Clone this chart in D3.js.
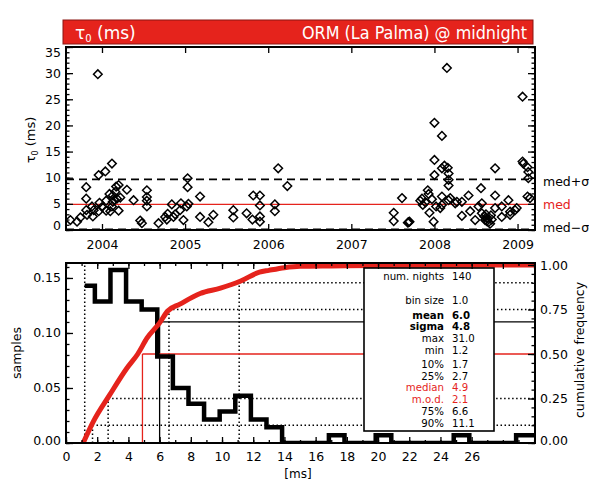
<!DOCTYPE html>
<html>
<head>
<meta charset="utf-8">
<script src="https://cdn.jsdelivr.net/npm/d3@7"></script>
<style>
  body { margin: 0; background: #fff; }
  svg { display: block; }
  text { font-family: "DejaVu Sans", "Liberation Sans", sans-serif; }
</style>
</head>
<body>
<svg id="chart" width="589" height="481"></svg>
<script>
// ---- nightly tau0 at midnight, ORM (La Palma) ----
const nightDate = [
  2003.62, 2003.70, 2003.74, 2003.81, 2003.81, 2003.81, 2003.82, 2003.88, 2003.89, 2003.90,
  2003.95, 2003.96, 2003.96, 2003.97, 2004.00, 2004.04, 2004.05, 2004.05, 2004.09, 2004.10,
  2004.12, 2004.12, 2004.13, 2004.13, 2004.15, 2004.16, 2004.17, 2004.18, 2004.20, 2004.20,
  2004.22, 2004.30, 2004.38, 2004.46, 2004.48, 2004.54, 2004.54, 2004.54, 2004.54, 2004.68,
  2004.76, 2004.78, 2004.79, 2004.84, 2004.86, 2004.88, 2004.94, 2004.95, 2004.98, 2005.02,
  2005.03, 2005.03, 2005.04, 2005.18, 2005.18, 2005.28, 2005.34, 2005.58, 2005.58, 2005.74,
  2005.81, 2005.82, 2005.90, 2005.90, 2005.90, 2005.90, 2006.08, 2006.08, 2006.12, 2006.23,
  2007.51, 2007.51, 2007.61, 2007.68, 2007.69, 2007.70, 2007.83, 2007.85, 2007.86, 2007.89,
  2007.92, 2007.93, 2007.94, 2007.97, 2007.99, 2008.00, 2008.00, 2008.00, 2008.02, 2008.07,
  2008.09, 2008.09, 2008.09, 2008.09, 2008.12, 2008.15, 2008.16, 2008.17, 2008.17, 2008.17,
  2008.17, 2008.19, 2008.25, 2008.27, 2008.33, 2008.33, 2008.41, 2008.43, 2008.49, 2008.53,
  2008.56, 2008.57, 2008.57, 2008.60, 2008.61, 2008.62, 2008.63, 2008.64, 2008.65, 2008.67,
  2008.68, 2008.69, 2008.73, 2008.73, 2008.73, 2008.81, 2008.81, 2008.89, 2008.91, 2008.91,
  2008.97, 2008.99, 2009.06, 2009.06, 2009.07, 2009.12, 2009.12, 2009.13, 2009.13, 2009.15
];
const nightTau = [
  1.9, 1.6, 2.4, 8.2, 6.0, 3.8, 2.9, 4.5, 2.6, 3.8,
  29.8, 10.5, 3.6, 5.2, 4.4, 11.2, 5.6, 3.7, 6.9, 3.6,
  12.7, 4.5, 6.6, 5.4, 5.8, 7.3, 8.3, 6.0, 8.6, 3.7,
  6.2, 7.7, 5.7, 1.8, 1.3, 7.6, 6.3, 5.6, 4.5, 1.3,
  2.5, 2.0, 3.1, 4.9, 2.5, 3.0, 3.8, 5.1, 1.9, 4.5,
  9.9, 8.2, 5.0, 6.4, 2.5, 1.5, 2.9, 3.8, 2.4, 3.2,
  2.0, 6.6, 6.6, 4.7, 2.6, 1.6, 4.9, 3.6, 11.8, 8.4,
  3.3, 1.7, 6.1, 1.4, 1.5, 1.6, 5.6, 6.0, 4.8, 5.3,
  7.6, 6.9, 3.3, 5.9, 1.6, 20.5, 13.4, 10.5, 4.5, 4.2,
  18.0, 11.8, 6.4, 4.8, 12.3, 31.0, 11.9, 10.8, 9.6, 8.5,
  5.7, 6.1, 5.1, 5.4, 5.4, 2.7, 6.6, 3.6, 1.9, 4.5,
  8.0, 5.1, 3.2, 2.6, 1.9, 3.0, 1.7, 2.2, 1.5, 1.2,
  2.8, 2.0, 11.8, 6.6, 4.2, 4.5, 2.5, 5.7, 3.5, 2.9,
  3.8, 4.2, 25.5, 13.1, 12.7, 12.0, 6.4, 11.1, 9.9, 6.1
];
const yearTicks = [2004, 2005, 2006, 2007, 2008, 2009];
const tauTicks = [0, 5, 10, 15, 20, 25, 30, 35];
const bandLabels = ["med+σ", "med", "med−σ"];

// ---- summary statistics ----
const numNights = 140;
const binSize = 1.0;
const meanTau = 6.0;
const sigmaTau = 4.8;
const maxTau = 31.0;
const minTau = 1.2;
const medianTau = 4.9;
const modTau = 2.1;
const meanCumulative = 0.68;
const quantiles = [
  { p: 0.10, v: 1.7 },
  { p: 0.25, v: 2.7 },
  { p: 0.75, v: 6.6 },
  { p: 0.90, v: 11.1 }
];

// ---- histogram of tau0 (nights per 1 ms bin) ----
const binFirstEdge = 0.85;
const binCounts = [20, 18, 22, 18, 17, 11, 7, 5, 3, 4, 6, 3, 2, 0, 0, 0, 1, 0, 0, 1, 0, 0, 0, 0, 1, 0, 0, 0, 1];

// ---- cumulative frequency ----
const cumX = [1.1, 1.75, 2.8, 3.9, 4.6, 5.2, 6.0, 6.5, 7.3, 8.6, 9.9, 11.2, 12.4, 13.0, 14.0, 15.0, 17.0, 20.0, 25.0, 30.06];
const cumY = [0, 0.12, 0.27, 0.42, 0.50, 0.59, 0.675, 0.74, 0.78, 0.84, 0.87, 0.91, 0.96, 0.97, 0.985, 0.993, 0.995, 0.997, 0.999, 1.0];

const msTicks = [0, 2, 4, 6, 8, 10, 12, 14, 16, 18, 20, 22, 24, 26];
const sampleTicks = [0, 0.05, 0.10, 0.15];
const cumTicks = [0, 0.25, 0.50, 0.75, 1.00];

const statRows = [
  { label: "num. nights", value: String(numNights) },
  { label: "bin size", value: binSize.toFixed(1) },
  { label: "mean", value: meanTau.toFixed(1), bold: true },
  { label: "sigma", value: sigmaTau.toFixed(1), bold: true },
  { label: "max", value: maxTau.toFixed(1) },
  { label: "min", value: minTau.toFixed(1) },
  { label: "10%", value: "1.7" },
  { label: "25%", value: "2.7" },
  { label: "median", value: medianTau.toFixed(1), red: true },
  { label: "m.o.d.", value: modTau.toFixed(1), red: true },
  { label: "75%", value: "6.6" },
  { label: "90%", value: "11.1" }
];

// ================= drawing =================
const RED = "#e5231c";
const svg = d3.select("#chart");
const FS = 12.5;

// ---------- title bar ----------
const titleBar = svg.append("g");
titleBar.append("rect").attr("x", 63).attr("y", 20).attr("width", 470).attr("height", 24)
  .attr("fill", RED).attr("stroke", "#8a1712").attr("stroke-width", 1);
const tt = titleBar.append("text").attr("x", 75).attr("y", 38.5).attr("fill", "#fff")
  .attr("font-size", 17);
tt.append("tspan").text("τ");
tt.append("tspan").attr("font-size", 10).attr("dy", 3).text("0");
tt.append("tspan").attr("dy", -3).text(" (ms)");
titleBar.append("text").attr("x", 527).attr("y", 38.5).attr("fill", "#fff")
  .attr("font-size", 17).attr("text-anchor", "end")
  .attr("textLength", 225).attr("lengthAdjust", "spacingAndGlyphs")
  .text("ORM (La Palma) @ midnight");

// ---------- top panel: tau0 time series ----------
const T = { left: 66, right: 535, top: 47, bottom: 230 };
const xYear = d3.scaleLinear().domain([2003.567, 2009.21]).range([T.left, T.right]);
const yTau = d3.scaleLinear().domain([0, 35]).range([T.bottom, T.top]);

svg.append("clipPath").attr("id", "clipTop").append("rect")
  .attr("x", T.left).attr("y", T.top).attr("width", T.right - T.left).attr("height", T.bottom - T.top);

const topPanel = svg.append("g");
const bands = [medianTau + sigmaTau, medianTau, medianTau - sigmaTau];
const topLines = topPanel.append("g").attr("clip-path", "url(#clipTop)");
topLines.selectAll("line").data(bands).join("line")
  .attr("x1", T.left).attr("x2", T.right)
  .attr("y1", d => yTau(d)).attr("y2", d => yTau(d))
  .attr("stroke", (d, i) => i === 1 ? RED : "#000")
  .attr("stroke-width", (d, i) => i === 1 ? 1.3 : 1.8)
  .attr("stroke-dasharray", (d, i) => i === 1 ? null : "8,5");

// open diamonds
const r = 4.3;
const diamond = `M0,${-r}L${r},0L0,${r}L${-r},0Z`;
topLines.selectAll("path.pt").data(d3.range(nightDate.length)).join("path")
  .attr("class", "pt")
  .attr("d", diamond)
  .attr("transform", i => `translate(${xYear(nightDate[i])},${yTau(nightTau[i])})`)
  .attr("fill", "none").attr("stroke", "#000").attr("stroke-width", 1.5);

// band labels on the right
topPanel.selectAll("text.band").data(bandLabels).join("text")
  .attr("class", "band")
  .attr("x", 543).attr("y", (d, i) => yTau(bands[i]) + 4.5 + (i === 2 ? -2 : (i === 0 ? 2 : 0)))
  .attr("font-size", 12.5)
  .attr("fill", (d, i) => i === 1 ? RED : "#000")
  .text(d => d);

// axes
function styleAxis(g, fs) {
  g.select(".domain").remove();
  g.selectAll("line").attr("stroke", "#000").attr("stroke-width", 1.3);
  g.selectAll("text").filter(function () { return this.textContent === ""; }).remove();
  g.selectAll("text").attr("font-size", fs).attr("fill", "#000").attr("font-family", null);
}
const yLeft = topPanel.append("g").attr("transform", `translate(${T.left},0)`)
  .call(d3.axisLeft(yTau).tickValues(tauTicks).tickSize(-7).tickPadding(5));
styleAxis(yLeft, FS);
yLeft.selectAll("text").attr("dy", d => d === 0 ? "-0.05em" : d === 35 ? "0.75em" : "0.32em");
topPanel.append("g").attr("transform", `translate(${T.left},0)`)
  .call(d3.axisLeft(yTau).tickValues(d3.range(0, 36, 1)).tickFormat("").tickSize(-3.5)).call(styleAxis, FS);
topPanel.append("g").attr("transform", `translate(${T.right},0)`)
  .call(d3.axisRight(yTau).tickValues(tauTicks).tickFormat("").tickSize(-7)).call(styleAxis, FS);
topPanel.append("g").attr("transform", `translate(${T.right},0)`)
  .call(d3.axisRight(yTau).tickValues(d3.range(0, 36, 1)).tickFormat("").tickSize(-3.5)).call(styleAxis, FS);
topPanel.append("g").attr("transform", `translate(0,${T.bottom})`)
  .call(d3.axisBottom(xYear).tickValues(yearTicks).tickFormat(d3.format("d")).tickSize(-6).tickPadding(10))
  .call(styleAxis, FS);
topPanel.append("g").attr("transform", `translate(0,${T.top})`)
  .call(d3.axisTop(xYear).tickValues(yearTicks).tickFormat("").tickSize(-6)).call(styleAxis, FS);

topPanel.append("rect").attr("x", T.left).attr("y", T.top).attr("width", T.right - T.left)
  .attr("height", T.bottom - T.top).attr("fill", "none").attr("stroke", "#000").attr("stroke-width", 2);

const yl = topPanel.append("text").attr("transform", "translate(35,140) rotate(-90)")
  .attr("text-anchor", "middle").attr("font-size", 13);
yl.append("tspan").text("τ");
yl.append("tspan").attr("font-size", 8).attr("dy", 3).text("0");
yl.append("tspan").attr("dy", -3).text(" (ms)");

// ---------- bottom panel: histogram + cumulative frequency ----------
const B = { left: 66, right: 535, top: 263, bottom: 443 };
const xMs = d3.scaleLinear().domain([0, 30.06]).range([B.left, B.right]);
const ySamp = d3.scaleLinear().domain([0, 0.1636]).range([B.bottom, B.top]);
const yCum = d3.scaleLinear().domain([0, 1]).range([B.bottom, 265]);

svg.append("clipPath").attr("id", "clipBot").append("rect")
  .attr("x", B.left).attr("y", B.top).attr("width", B.right - B.left).attr("height", B.bottom - B.top);

const bot = svg.append("g");
const guides = bot.append("g").attr("clip-path", "url(#clipBot)");
const dotted = { stroke: "#000", "stroke-width": 1.5, "stroke-dasharray": "1.5,2.5" };
function applyAttrs(sel, attrs) { for (const k in attrs) sel.attr(k, attrs[k]); return sel; }

// minimum value, full height
applyAttrs(guides.append("line")
  .attr("x1", xMs(minTau)).attr("x2", xMs(minTau)).attr("y1", B.bottom).attr("y2", B.top), dotted);

// quantile guides
quantiles.forEach(q => {
  applyAttrs(guides.append("line").attr("x1", xMs(q.v)).attr("x2", xMs(q.v))
    .attr("y1", B.bottom).attr("y2", yCum(q.p)), dotted);
  applyAttrs(guides.append("line").attr("x1", xMs(q.v)).attr("x2", B.right)
    .attr("y1", yCum(q.p)).attr("y2", yCum(q.p)), dotted);
});

// mean (black) and median (red) guides
[{ v: meanTau, p: meanCumulative, c: "#000" }, { v: medianTau, p: 0.5, c: RED }].forEach(g => {
  guides.append("line").attr("x1", xMs(g.v)).attr("x2", xMs(g.v))
    .attr("y1", B.bottom).attr("y2", yCum(g.p)).attr("stroke", g.c).attr("stroke-width", 1.3);
  guides.append("line").attr("x1", xMs(g.v)).attr("x2", B.right)
    .attr("y1", yCum(g.p)).attr("y2", yCum(g.p)).attr("stroke", g.c).attr("stroke-width", 1.3);
});

// histogram as a step line
const steps = [];
binCounts.forEach((c, k) => {
  const lo = Math.max(binFirstEdge + k * binSize, minTau);
  const hi = k === binCounts.length - 1 ? xMs.domain()[1] : binFirstEdge + (k + 1) * binSize;
  steps.push([lo, c / numNights], [hi, c / numNights]);
});
guides.append("path")
  .attr("d", d3.line().x(d => xMs(d[0])).y(d => ySamp(d[1]))(steps))
  .attr("fill", "none").attr("stroke", "#000").attr("stroke-width", 4.5)
  .attr("stroke-linejoin", "miter");

// cumulative frequency curve
guides.append("path")
  .attr("d", d3.line().x((d, i) => xMs(cumX[i])).y((d, i) => yCum(cumY[i])).curve(d3.curveMonotoneX)(cumX))
  .attr("fill", "none").attr("stroke", RED).attr("stroke-width", 5).attr("stroke-linecap", "round");

// statistics box
const box = bot.append("g");
box.append("rect").attr("x", 364).attr("y", 268).attr("width", 130).attr("height", 163)
  .attr("fill", "#fff").attr("stroke", "#000").attr("stroke-width", 1.6);
const rowY = [280, 304, 318.5, 330.2, 341.9, 353.6, 368, 379.7, 391.4, 403.1, 414.8, 426.5];
const rows = box.selectAll("g.row").data(statRows).join("g").attr("class", "row");
rows.append("text").attr("x", 444).attr("y", (d, i) => rowY[i]).attr("text-anchor", "end")
  .attr("font-size", 10.2).attr("font-weight", d => d.bold ? "bold" : null)
  .attr("fill", d => d.red ? RED : "#000").text(d => d.label);
rows.append("text").attr("x", 452).attr("y", (d, i) => rowY[i])
  .attr("font-size", 10.2).attr("font-weight", d => d.bold ? "bold" : null)
  .attr("fill", d => d.red ? RED : "#000").text(d => d.value);

// axes
const sl = bot.append("g").attr("transform", `translate(${B.left},0)`)
  .call(d3.axisLeft(ySamp).tickValues(sampleTicks).tickFormat(d3.format(".2f")).tickSize(-7).tickPadding(5));
styleAxis(sl, FS);
sl.selectAll("text").attr("dy", d => d === 0 ? "0.1em" : "0.32em");
bot.append("g").attr("transform", `translate(${B.left},0)`)
  .call(d3.axisLeft(ySamp).tickValues(d3.range(0, 0.161, 0.01)).tickFormat("").tickSize(-3.5)).call(styleAxis, FS);
const cr = bot.append("g").attr("transform", `translate(${B.right},0)`)
  .call(d3.axisRight(yCum).tickValues(cumTicks).tickFormat(d3.format(".2f")).tickSize(-7).tickPadding(5));
styleAxis(cr, FS);
cr.selectAll("text").attr("dy", d => d === 0 ? "0.1em" : "0.32em");
bot.append("g").attr("transform", `translate(${B.right},0)`)
  .call(d3.axisRight(yCum).tickValues(d3.range(0, 1.001, 0.05)).tickFormat("").tickSize(-3.5)).call(styleAxis, FS);
bot.append("g").attr("transform", `translate(0,${B.bottom})`)
  .call(d3.axisBottom(xMs).tickValues(msTicks).tickFormat(d3.format("d")).tickSize(-6).tickPadding(9))
  .call(styleAxis, FS);
bot.append("g").attr("transform", `translate(0,${B.bottom})`)
  .call(d3.axisBottom(xMs).tickValues(d3.range(0, 31, 1)).tickFormat("").tickSize(-3)).call(styleAxis, FS);
bot.append("g").attr("transform", `translate(0,${B.top})`)
  .call(d3.axisTop(xMs).tickValues(d3.range(0, 31, 2)).tickFormat("").tickSize(-6)).call(styleAxis, FS);
bot.append("g").attr("transform", `translate(0,${B.top})`)
  .call(d3.axisTop(xMs).tickValues(d3.range(0, 31, 1)).tickFormat("").tickSize(-3)).call(styleAxis, FS);

bot.append("rect").attr("x", B.left).attr("y", B.top).attr("width", B.right - B.left)
  .attr("height", B.bottom - B.top).attr("fill", "none").attr("stroke", "#000").attr("stroke-width", 2);

bot.append("text").attr("x", 298).attr("y", 478).attr("text-anchor", "middle")
  .attr("font-size", 12).text("[ms]");
bot.append("text").attr("transform", "translate(21,353) rotate(-90)")
  .attr("text-anchor", "middle").attr("font-size", 12.5).text("samples");
bot.append("text").attr("transform", "translate(584,350) rotate(-90)")
  .attr("text-anchor", "middle").attr("font-size", 12.5).text("cumulative frequency");
</script>
</body>
</html>
